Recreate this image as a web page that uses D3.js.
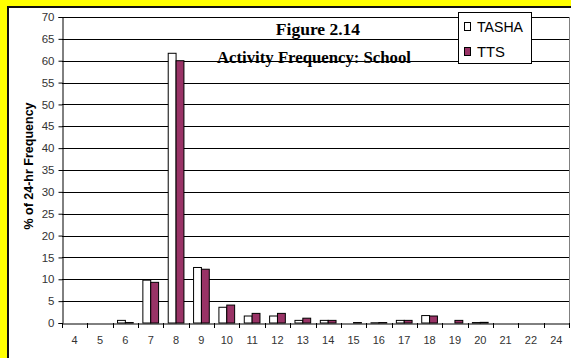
<!DOCTYPE html>
<html>
<head>
<meta charset="utf-8">
<script src="https://cdn.jsdelivr.net/npm/d3@7"></script>
<style>
  html, body { margin: 0; padding: 0; background: #ffff00; }
  svg { display: block; }
</style>
</head>
<body>
<svg id="chart" width="571" height="358"></svg>
<script>
// Hour-of-day categories and activity frequency (% of 24-hr) per source
const hours = ["4", "5", "6", "7", "8", "9", "10", "11", "12", "13", "14", "15", "16", "17", "18", "19", "20", "21", "22", "24"];
const tasha = [0, 0, 0.6, 9.8, 61.7, 12.7, 3.6, 1.6, 1.6, 0.6, 0.6, 0, 0.05, 0.6, 1.7, 0, 0.1, 0, 0, 0];
const tts   = [0, 0, 0.1, 9.3, 60.0, 12.3, 4.1, 2.2, 2.2, 1.1, 0.6, 0.1, 0.1, 0.6, 1.6, 0.6, 0.15, 0, 0, 0];
const seriesNames = ["TASHA", "TTS"];
const seriesColors = ["#ffffff", "#993366"];
const yTicks = d3.range(0, 71, 5);

const svg = d3.select("#chart");

// white chart panel on the yellow page
svg.append("rect").attr("x", 8).attr("y", 7).attr("width", 580).attr("height", 360)
  .attr("fill", "#ffffff").attr("stroke", "#111").attr("stroke-width", 2);

const plot = { left: 62, right: 569, top: 17, bottom: 323 };

const x = d3.scaleBand().domain(hours).range([plot.left, plot.right]).padding(0);
const xs = d3.scaleBand().domain(seriesNames)
  .range([x.bandwidth() * 0.19, x.bandwidth() * 0.81]).padding(0);
const y = d3.scaleLinear().domain([0, 70]).range([plot.bottom, plot.top]);

// horizontal gridlines
svg.append("g").selectAll("line").data(yTicks.filter(d => d > 0)).join("line")
  .attr("x1", plot.left).attr("x2", plot.right)
  .attr("y1", d => Math.round(y(d)) + 0.5).attr("y2", d => Math.round(y(d)) + 0.5)
  .attr("stroke", "#000").attr("stroke-width", 1);

// right edge of plot area
svg.append("line").attr("x1", plot.right + 0.5).attr("x2", plot.right + 0.5)
  .attr("y1", plot.top).attr("y2", plot.bottom).attr("stroke", "#808080");

// bars
const rows = hours.map((h, i) => ({ h, vals: [tasha[i], tts[i]] }));
const groups = svg.append("g").selectAll("g").data(rows).join("g")
  .attr("transform", d => `translate(${x(d.h)},0)`);
groups.selectAll("rect")
  .data(d => d.vals.map((v, k) => ({ name: seriesNames[k], v, k })))
  .join("rect")
  .attr("x", d => xs(d.name))
  .attr("width", xs.bandwidth())
  .attr("y", d => y(d.v))
  .attr("height", d => plot.bottom - y(d.v))
  .attr("fill", d => seriesColors[d.k])
  .attr("stroke", "#000").attr("stroke-width", 1);

// y axis
const yAxis = d3.axisLeft(y).tickValues(yTicks).tickSize(4).tickPadding(4);
const gy = svg.append("g").attr("transform", `translate(${plot.left + 0.5},0)`).call(yAxis);
gy.select(".domain").attr("stroke", "#000");
gy.selectAll(".tick line").attr("stroke", "#000");
gy.selectAll("text").attr("font-family", "Arial, 'Liberation Sans', sans-serif")
  .attr("font-size", 11.5).attr("fill", "#333");

// x axis with ticks between categories
const gx = svg.append("g").attr("transform", `translate(0,${plot.bottom + 0.5})`)
  .call(d3.axisBottom(x).tickSize(0).tickPadding(13));
gx.select(".domain").attr("stroke", "#000");
gx.selectAll("text").attr("font-family", "Arial, 'Liberation Sans', sans-serif")
  .attr("font-size", 11).attr("fill", "#333");
svg.append("g").selectAll("line")
  .data(hours.map(h => x(h)).concat([plot.right]))
  .join("line")
  .attr("x1", d => Math.round(d) + 0.5).attr("x2", d => Math.round(d) + 0.5)
  .attr("y1", plot.bottom).attr("y2", plot.bottom + 5)
  .attr("stroke", "#000");

// y axis title
svg.append("text")
  .attr("transform", `translate(33,166) rotate(-90)`)
  .attr("text-anchor", "middle")
  .attr("font-family", "Arial, 'Liberation Sans', sans-serif")
  .attr("font-weight", "bold").attr("font-size", 12.5)
  .attr("fill", "#000")
  .text("% of 24-hr Frequency");

// titles
svg.append("text").attr("x", 318).attr("y", 35).attr("text-anchor", "middle")
  .attr("font-family", "'Times New Roman', 'Liberation Serif', serif")
  .attr("font-weight", "bold").attr("font-size", 17.5).text("Figure 2.14");
svg.append("text").attr("x", 314).attr("y", 63).attr("text-anchor", "middle")
  .attr("font-family", "'Times New Roman', 'Liberation Serif', serif")
  .attr("font-weight", "bold").attr("font-size", 17)
  .attr("textLength", 194).attr("lengthAdjust", "spacingAndGlyphs")
  .text("Activity Frequency: School");

// legend
const lg = svg.append("g").attr("transform", "translate(458,12)");
lg.append("rect").attr("x", 0.5).attr("y", 0.5).attr("width", 73).attr("height", 51)
  .attr("fill", "#fff").attr("stroke", "#000");
seriesNames.forEach((name, k) => {
  const cy = 14 + k * 25;
  lg.append("rect").attr("x", 6.5).attr("y", cy - 3.5).attr("width", 6).attr("height", 8)
    .attr("fill", seriesColors[k]).attr("stroke", "#000");
  lg.append("text").attr("x", 19).attr("y", cy + 5.5)
    .attr("font-family", "Arial, 'Liberation Sans', sans-serif")
    .attr("font-size", 14.5).attr("fill", "#000")
    .attr("textLength", name.length > 3 ? 46 : 28).attr("lengthAdjust", "spacingAndGlyphs")
    .text(name);
});
</script>
</body>
</html>
